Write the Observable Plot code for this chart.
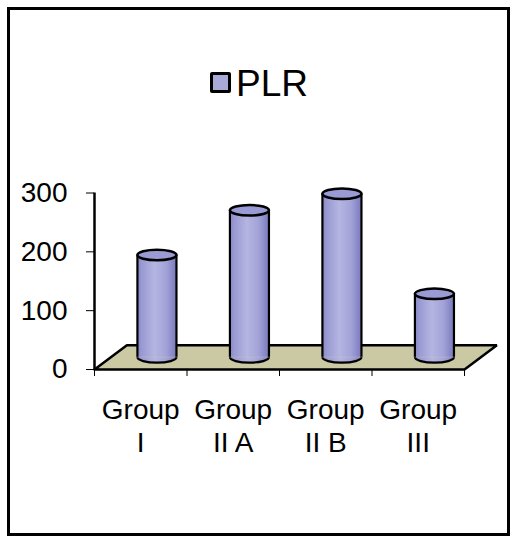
<!DOCTYPE html>
<html>
<head>
<meta charset="utf-8">
<script src="https://cdn.jsdelivr.net/npm/d3@7"></script>
<script src="https://cdn.jsdelivr.net/npm/@observablehq/plot@0.6"></script>
<style>
  html, body { margin: 0; padding: 0; background: #fff; }
  #chart { position: relative; width: 513px; height: 541px; overflow: hidden;
           font-family: "Liberation Sans", Arial, sans-serif; }
  #chart svg { position: absolute; left: 0; top: 0; }
  #chart svg g[aria-label^="y-axis"] text { font-size: 28px; }
  #frame { position: absolute; left: 7px; top: 7px; width: 503px; height: 529px;
           box-sizing: border-box; border: 3px solid #000; pointer-events: none; }
  #legend-swatch { position: absolute; left: 210px; top: 72px; width: 21px; height: 21px;
                   box-sizing: border-box; border: 3px solid #000; border-radius: 2px; background: #aaaad8; }
  #legend-text { position: absolute; left: 236px; top: 65px; font-size: 37px; line-height: 37px; color: #000; }
</style>
</head>
<body>
<div id="chart">
  <div id="legend-swatch"></div>
  <div id="legend-text"></div>
  <div id="frame"></div>
</div>
<script>
// Platelet-to-lymphocyte ratio by study group
const groups = ["Group I", "Group II A", "Group II B", "Group III"];
const groupLabels = ["Group\nI", "Group\nII A", "Group\nII B", "Group\nIII"];
const plr = [174, 250, 278, 108];
const yTicks = [0, 100, 200, 300];
const seriesName = "PLR";

// Oblique projection of the floor: depth expressed in x (category) and y (value) units
const DEPTH_X = 0.35;
const DEPTH_Y = 41.3;
const HALF_W = 0.211;   // cylinder radius in category widths
const CAP_R = 19.5;     // same radius in pixels, for the elliptical caps
const ASPECT = 0.27;    // vertical squash of the caps
const K = 0.5523;       // bezier constant for quarter ellipses

const n = groups.length;
const rows = groups.map((g, i) => ({
  group: g,
  label: groupLabels[i],
  value: plr[i],
  center: i + 0.5,
  cx: i + 0.5 + DEPTH_X / 2,
  base: DEPTH_Y / 2,
  top: plr[i] + DEPTH_Y / 2
}));

const floor = [[0, 0], [n, 0], [n + DEPTH_X, DEPTH_Y], [DEPTH_X, DEPTH_Y], [0, 0]];

// Custom dot symbols: full ellipse cap, lower half (filled) and lower arc (outline)
const capSymbol = {
  draw(ctx, size) {
    const rx = Math.sqrt(size / Math.PI), ry = rx * ASPECT;
    ctx.moveTo(rx, 0);
    ctx.bezierCurveTo(rx, ry * K, rx * K, ry, 0, ry);
    ctx.bezierCurveTo(-rx * K, ry, -rx, ry * K, -rx, 0);
    ctx.bezierCurveTo(-rx, -ry * K, -rx * K, -ry, 0, -ry);
    ctx.bezierCurveTo(rx * K, -ry, rx, -ry * K, rx, 0);
    ctx.closePath();
  }
};
function lowerHalf(closed) {
  return {
    draw(ctx, size) {
      const rx = Math.sqrt(size / Math.PI), ry = rx * ASPECT;
      ctx.moveTo(-rx, 0);
      ctx.bezierCurveTo(-rx, ry * K, -rx * K, ry, 0, ry);
      ctx.bezierCurveTo(rx * K, ry, rx, ry * K, rx, 0);
      if (closed) ctx.closePath();
    }
  };
}

const shade = "url(#cyl-shade)";

const chart = Plot.plot({
  width: 513,
  height: 541,
  marginLeft: 94,
  marginRight: 49,
  marginTop: 192.5,
  marginBottom: 172,
  style: { fontFamily: "Liberation Sans, Arial, sans-serif", fontSize: "28px", background: "none", color: "#000" },
  x: { domain: [0, n], ticks: d3.range(n + 1), tickFormat: () => "", tickSize: 7, label: null },
  y: { domain: [0, 300], ticks: yTicks, tickSize: 8, tickPadding: 19, label: null },
  marks: [
    Plot.line(floor, { x: d => d[0], y: d => d[1], fill: "#cbc9a4", stroke: "#000", strokeWidth: 2.5, strokeLinejoin: "miter" }),
    Plot.ruleX([0], { y1: 0, y2: yTicks[yTicks.length - 1], stroke: "#000", strokeWidth: 2.5 }),
    Plot.dot(rows, { x: "cx", y: "base", r: CAP_R, symbol: lowerHalf(true), fill: shade, stroke: "none" }),
    Plot.rect(rows, { x1: d => d.cx - HALF_W, x2: d => d.cx + HALF_W, y1: "base", y2: "top", fill: shade }),
    Plot.ruleX(rows, { x: d => d.cx - HALF_W, y1: "base", y2: "top", stroke: "#000", strokeWidth: 2.2 }),
    Plot.ruleX(rows, { x: d => d.cx + HALF_W, y1: "base", y2: "top", stroke: "#000", strokeWidth: 2.2 }),
    Plot.dot(rows, { x: "cx", y: "base", r: CAP_R, symbol: lowerHalf(false), fill: "none", stroke: "#000", strokeWidth: 2.2 }),
    Plot.dot(rows, { x: "cx", y: "top", r: CAP_R, symbol: capSymbol, fill: "#9a9ad4", stroke: "#000", strokeWidth: 2.5 }),
    Plot.text(rows, { x: "center", y: () => 0, text: "label", lineAnchor: "top", dy: 27, fontSize: 28, lineHeight: 1.15, fill: "#000" })
  ]
});

// Horizontal shading that gives the bars their cylindrical look
const defs = d3.select(chart).insert("defs", ":first-child");
const grad = defs.append("linearGradient").attr("id", "cyl-shade").attr("x1", 0).attr("x2", 1).attr("y1", 0).attr("y2", 0);
[[0, "#8484c6"], [0.12, "#9999d3"], [0.45, "#b5b5e2"], [0.75, "#a2a2d8"], [1, "#7b7bbf"]]
  .forEach(([o, c]) => grad.append("stop").attr("offset", o).attr("stop-color", c));

const root = document.getElementById("chart");
root.insertBefore(chart, root.firstChild);
document.getElementById("legend-text").textContent = seriesName;
</script>
</body>
</html>
